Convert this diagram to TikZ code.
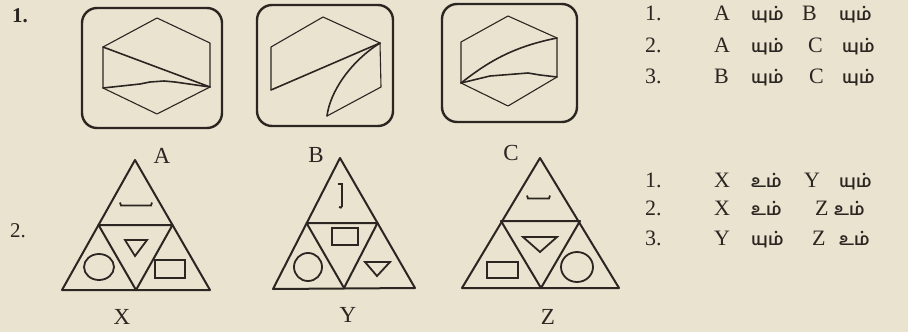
\documentclass[tikz,border=0pt]{standalone}
\usepackage{fontspec}
\setmainfont{Liberation Serif}
\newfontfamily\tamil[Script=Tamil]{Hind Madurai}
\definecolor{paper}{HTML}{EAE3CF}
\definecolor{ink}{HTML}{2B2622}
\begin{document}
\begin{tikzpicture}[x=1pt,y=-1pt,
  frame/.style={draw=ink,line width=2.4pt,rounded corners=15pt},
  hexl/.style={draw=ink,line width=1.1pt,line join=round},
  cut/.style={draw=ink,line width=1.6pt,line cap=round,line join=round},
  tri/.style={draw=ink,line width=2pt,line join=round},
  sym/.style={draw=ink,line width=1.8pt},
  lbl/.style={text=ink,font=\fontsize{23}{24}\selectfont,inner sep=0pt},
  num/.style={text=ink,font=\fontsize{21}{24}\selectfont,inner sep=0pt,anchor=base west},
  opt/.style={text=ink,font=\fontsize{22}{24}\selectfont,inner sep=0pt,anchor=base west},
  tam/.style={text=ink,font=\tamil\bfseries\fontsize{17}{18}\selectfont,inner sep=0pt,anchor=base west}]
\fill[paper] (0,0) rectangle (908,332);
\useasboundingbox (0,0) rectangle (908,332);

% question numbers
\node[num,font=\bfseries\fontsize{21}{24}\selectfont] (q1) at (12,23) {1.};
\node[num] (q2) at (10,237) {2.};

% ---------- Box A ----------
\draw[frame] (82,8) rectangle (222,128);
\draw[hexl] (157,18) -- (210,43) -- (210,87) -- (157,114) -- (103,88) -- (103,47) -- cycle;
\draw[cut] (103,47) -- (210,87);
\draw[cut] (103,88) -- (140,84) -- (150,82) -- (164,81) -- (175,82) -- (210,87);

% ---------- Box B ----------
\draw[frame] (257,5) rectangle (393,126);
\draw[hexl] (327,116) -- (381,87) -- (380,43) -- (323,17) -- (271,47) -- (271,90);
\draw[cut] (271,90) -- (380,43);
\draw[cut] (380,43) .. controls (350,62) and (330,92) .. (327,116);

% ---------- Box C ----------
\draw[frame] (442,4) rectangle (577,122);
\draw[hexl] (508,16) -- (557,38) -- (557,77) -- (508,106) -- (461,83) -- (461,42) -- cycle;
\draw[cut] (461,83) .. controls (488,62) and (512,47) .. (557,38);
\draw[cut] (461,83) -- (490,76) -- (528,73) -- (540,75) -- (557,77);

% labels A B C
\node[lbl] (la) at (162,156) {A};
\node[lbl] (lb) at (316,155) {B};
\node[lbl] (lc) at (511,153) {C};

% ---------- Triangle X ----------
\draw[tri] (135,160) -- (210,290) -- (62,290) -- cycle;
\draw[tri] (98.5,225) -- (172.5,225) -- (136,290) -- cycle;
\draw[sym] (120,202.5) -- (121,205.5) -- (151,205.5) -- (152,202.5);
\draw[sym] (125,240) -- (147,240) -- (135,256) -- cycle;
\draw[sym] (99,267) ellipse [x radius=15, y radius=13];
\draw[sym] (155,260) rectangle (185,278);
\node[lbl] (lx) at (122,317) {X};

% ---------- Triangle Y ----------
\draw[tri] (340,158) -- (415,288) -- (273,289) -- cycle;
\draw[tri] (306.5,223) -- (377.5,223) -- (344,288) -- cycle;
\draw[sym] (338,184) -- (342,184) -- (342,206) .. controls (342,208) and (340,208) .. (339,207);
\draw[sym] (332,228) rectangle (358,245);
\draw[sym] (308,267) ellipse [x radius=14, y radius=14];
\draw[sym] (365,262) -- (390,262) -- (377,276) -- cycle;
\node[lbl] (ly) at (348,315) {Y};

% ---------- Triangle Z ----------
\draw[tri] (540,158) -- (619,288) -- (462,288) -- cycle;
\draw[tri] (501,221) -- (580,221) -- (541,288) -- cycle;
\draw[sym] (527,195.5) -- (528,198.5) -- (549,198.5) -- (550,195.5);
\draw[sym] (523,237) -- (557,237) -- (540,252) -- cycle;
\draw[sym] (487,262) rectangle (518,278);
\draw[sym] (577,267) ellipse [x radius=16, y radius=15];
\node[lbl] (lz) at (548,317) {Z};

% ---------- options, question 1 ----------
\node[opt] (a1n) at (645,20) {1.};
\node[opt] (a2n) at (645,52) {2.};
\node[opt] (a3n) at (645,83) {3.};
\node[opt] (a1a) at (714,20) {A};
\node[tam] (a1b) at (751,20) {யும்};
\node[opt] (a1c) at (802,20) {B};
\node[tam] (a1d) at (839,20) {யும்};
\node[opt] (a2a) at (714,52) {A};
\node[tam] (a2b) at (751,52) {யும்};
\node[opt] (a2c) at (808,52) {C};
\node[tam] (a2d) at (842,52) {யும்};
\node[opt] (a3a) at (714,83) {B};
\node[tam] (a3b) at (751,83) {யும்};
\node[opt] (a3c) at (809,83) {C};
\node[tam] (a3d) at (842,83) {யும்};

% ---------- options, question 2 ----------
\node[opt] (b1n) at (645,187) {1.};
\node[opt] (b2n) at (645,215) {2.};
\node[opt] (b3n) at (645,245) {3.};
\node[opt] (b1a) at (714,187) {X};
\node[tam] (b1b) at (751,187) {உம்};
\node[opt] (b1c) at (804,187) {Y};
\node[tam] (b1d) at (839,187) {யும்};
\node[opt] (b2a) at (714,215) {X};
\node[tam] (b2b) at (751,215) {உம்};
\node[opt] (b2c) at (815,215) {Z};
\node[tam] (b2d) at (834,215) {உம்};
\node[opt] (b3a) at (714,245) {Y};
\node[tam] (b3b) at (751,245) {யும்};
\node[opt] (b3c) at (812,245) {Z};
\node[tam] (b3d) at (839,245) {உம்};
\end{tikzpicture}
\end{document}
